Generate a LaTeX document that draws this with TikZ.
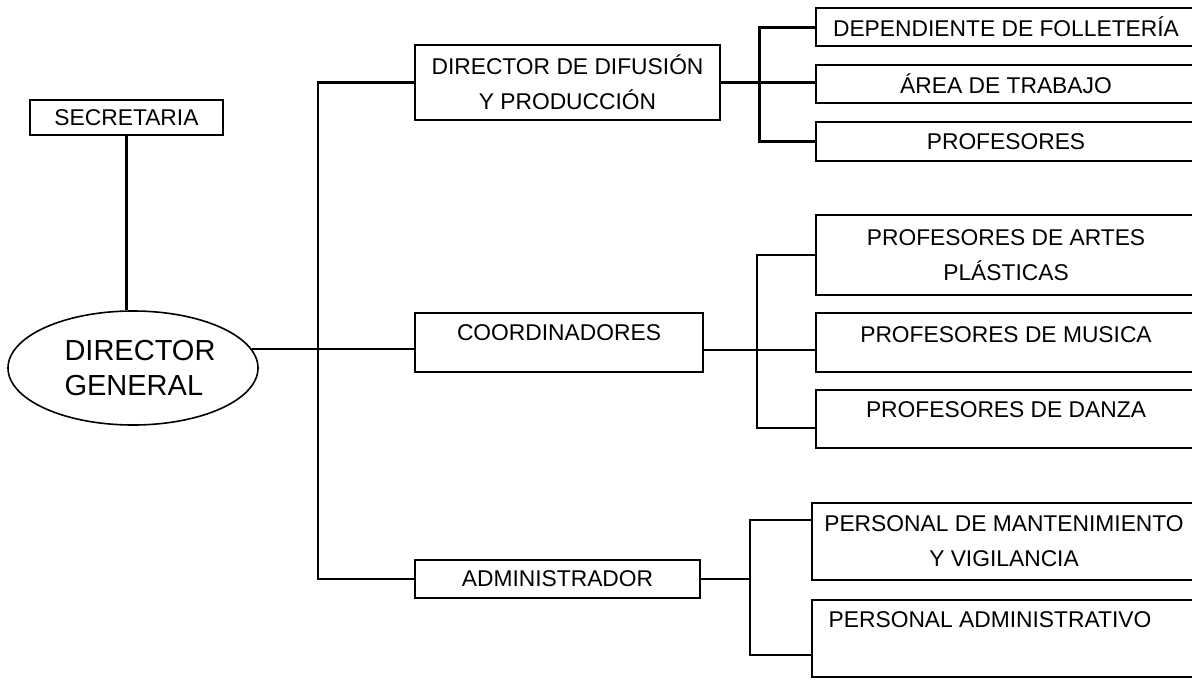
\documentclass[tikz,border=0pt]{standalone}
\usepackage{fontspec}
\setmainfont{Liberation Sans}
\usetikzlibrary{shapes.geometric}
\begin{document}
\begin{tikzpicture}[x=0.5pt,y=-0.5pt,
  box/.style={draw, line width=0.8pt, rectangle, inner sep=0pt, align=center,
    font=\fontsize{11.4}{17.5}\selectfont},
  every label/.style={inner sep=0pt, align=center, font=\fontsize{11.4}{17.5}\selectfont},
  wire/.style={line width=0.8pt},
  midwire/.style={line width=1.1pt},
  heavy/.style={line width=1.5pt}]
\useasboundingbox (0,0) rectangle (1192,680);
\fill[white] (0,0) rectangle (1192,680);

% left side: general director and secretary
\node[box, minimum width=96.5pt, minimum height=17.5pt] (sec) at (126.5,117.5) {SECRETARIA};
\node[draw, ellipse, line width=0.8pt, minimum width=125pt, minimum height=57pt, inner sep=0pt,
  label={[xshift=3.5pt, align=left, font=\fontsize{14.5}{17.5}\selectfont]center:DIRECTOR\\GENERAL}]
  (dg) at (133,368) {};

% second level
\node[box, minimum width=152.5pt, minimum height=37.5pt] (dif) at (567.5,82.5)
  {DIRECTOR DE DIFUSIÓN\\Y PRODUCCIÓN};
\node[box, minimum width=144pt, minimum height=29.5pt,
  label={[yshift=4.75pt]center:COORDINADORES}] (coord) at (559,342.5) {};
\node[box, minimum width=142.5pt, minimum height=19pt] (adm) at (557.5,579) {ADMINISTRADOR};

% third level, dissemination branch
\node[box, minimum width=190pt, minimum height=19pt] (dep) at (1006,27) {DEPENDIENTE DE FOLLETERÍA};
\node[box, minimum width=190pt, minimum height=19pt] (area) at (1006,84) {ÁREA DE TRABAJO};
\node[box, minimum width=190pt, minimum height=19.5pt] (prof) at (1006,141.5) {PROFESORES};

% third level, coordination branch
\node[box, minimum width=190pt, minimum height=40pt] (artes) at (1006,255)
  {PROFESORES DE ARTES\\PLÁSTICAS};
\node[box, minimum width=190pt, minimum height=29.5pt,
  label={[yshift=3.75pt]center:PROFESORES DE MUSICA}] (musica) at (1006,342.5) {};
\node[box, minimum width=190pt, minimum height=29pt,
  label={[yshift=4.5pt]center:PROFESORES DE DANZA}] (danza) at (1006,419) {};

% third level, administration branch
\node[box, minimum width=192pt, minimum height=38.5pt] (mant) at (1004,541.5)
  {PERSONAL DE MANTENIMIENTO\\Y VIGILANCIA};
\node[box, minimum width=192pt, minimum height=38.5pt,
  label={[yshift=9.25pt,xshift=-7pt]center:PERSONAL ADMINISTRATIVO}] (padm) at (1004,638.5) {};

% connectors
\coordinate (tk) at (318,350);
\coordinate (b1) at (759,84);
\coordinate (b2) at (757,350);
\coordinate (b3) at (750,579);

\draw[heavy] (sec.south) -- (sec.south |- dg.north);
\draw[wire] (dg.9) -- (dg.9 -| coord.west);
\draw[midwire] (dif.west) -| (tk) |- (adm.west);

\draw[heavy] (dif.east) -- (dif.east -| area.west);
\draw[heavy] (dep.west) -| (b1) |- (prof.west);

\draw[wire] ([yshift=-3.75pt]coord.east) -- ([yshift=-3.75pt]musica.west);
\draw[wire] (artes.west) -| (b2) |- ([yshift=-4.5pt]danza.west);

\draw[midwire] (adm.east) -- (b3);
\draw[midwire] ([yshift=10.75pt]mant.west) -| (b3) |- ([yshift=-8.25pt]padm.west);
\end{tikzpicture}
\end{document}
